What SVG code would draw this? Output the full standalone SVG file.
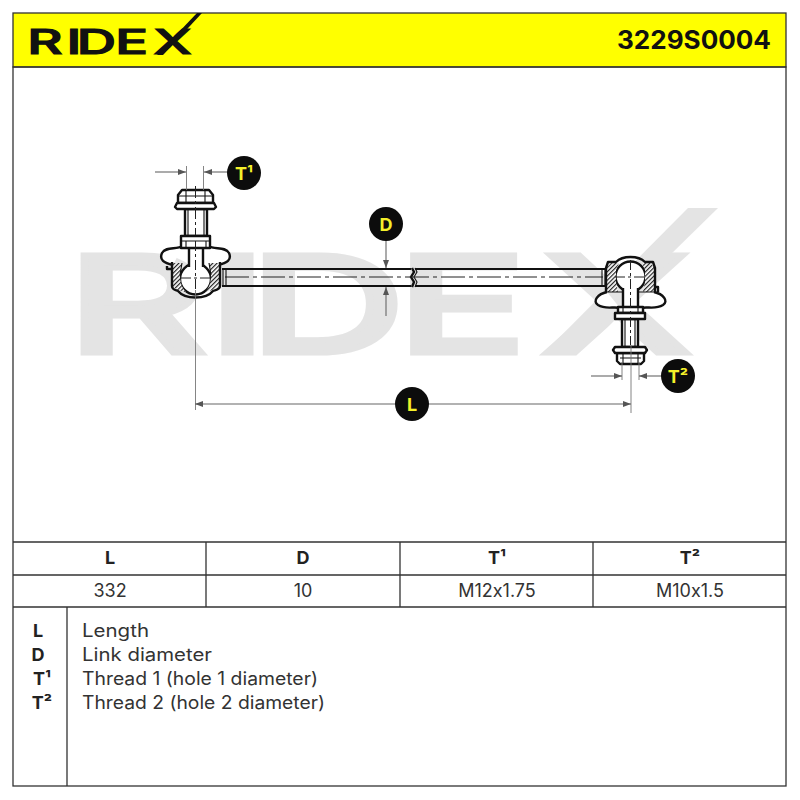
<svg xmlns="http://www.w3.org/2000/svg" width="800" height="800" viewBox="0 0 800 800">
<style>
text{font-family:"Inter","Open Sans","Liberation Sans",sans-serif;fill:#222;font-feature-settings:"calt" 0,"liga" 0}
.grid{stroke:#333;stroke-width:1.3;fill:none}
.th{font-size:18px;font-weight:700;text-anchor:middle}
.td{font-size:18px;text-anchor:middle;fill:#333}
.lk{font-size:18px;font-weight:700;text-anchor:middle}
.lv{font-size:18px;fill:#333}
.dim{stroke:#666;stroke-width:1.1;fill:none}
.ext{stroke:#777;stroke-width:.9;fill:none}
.o{stroke:#111;stroke-width:2.4;fill:#fff;stroke-linejoin:round}
.l{stroke:#111;stroke-width:2.4;fill:none;stroke-linejoin:round}
.t{stroke:#111;stroke-width:1.1;fill:none}
.w{fill:#fff;stroke:none}
.hh{fill:url(#h);stroke:none}
.c{stroke:#222;stroke-width:1;fill:none}
.bub{fill:#0c0c0c}
.bt{font-size:18px;font-weight:700;fill:#f4f02a;text-anchor:middle}
</style>
<defs>
<marker id="a" viewBox="0 0 8 6" refX="8" refY="3" markerWidth="8" markerHeight="6" orient="auto-start-reverse" markerUnits="userSpaceOnUse"><path d="M0 0L8 3L0 6z" fill="#555"/></marker>
<pattern id="h" width="3" height="3" patternUnits="userSpaceOnUse" patternTransform="rotate(-45)"><rect width="3" height="3" fill="#fff"/><rect width="3" height="1.2" fill="#222"/></pattern>
</defs>
<rect width="800" height="800" fill="#fff"/>
<g id="watermark">
<text transform="translate(0 353) scale(1.6 1)" x="42 130 156 248 338" y="0" font-size="135" font-weight="500" style="fill:#e4e4e4;stroke:#e4e4e4;stroke-width:5">RIDEX</text>
<path d="M542 355H568L718 208H688z" fill="#e4e4e4"/>
</g>
<g id="header">
<rect x="13" y="13" width="773" height="54" fill="#ffff00" stroke="#333" stroke-width="1.3"/>
<text transform="translate(0 54) scale(1.6 1)" x="17 41.500 48 72 96" y="0" font-size="34" font-weight="500" style="fill:#111;stroke:#111;stroke-width:1.200">RIDEX</text>
<path d="M157 55H163L202 13H197z" fill="#111"/>
<text x="617" y="49" font-size="25" font-weight="700" textLength="154" lengthAdjust="spacingAndGlyphs" style="fill:#111">3229S0004</text>
</g>
<g id="frame" class="grid">
<rect x="13" y="67" width="773" height="719"/>
<path d="M13 542H786M13 575H786M13 607H786M206 542V607M400 542V607M593 542V607M67 607V786"/>
</g>
<g id="table">
<text class="th" x="110" y="564">L</text><text class="th" x="303" y="564">D</text><text class="th" x="497" y="564">T¹</text><text class="th" x="690" y="564">T²</text>
<text class="td" x="110" y="597">332</text><text class="td" x="303" y="597">10</text><text class="td" x="497" y="597">M12x1.75</text><text class="td" x="690" y="597">M10x1.5</text>
</g>
<g id="legend">
<text class="lk" x="38" y="637">L</text><text class="lk" x="38" y="661">D</text><text class="lk" x="42" y="685">T¹</text><text class="lk" x="42" y="709">T²</text>
<text class="lv" x="82" y="637" textLength="67" lengthAdjust="spacingAndGlyphs">Length</text>
<text class="lv" x="82" y="661" textLength="130" lengthAdjust="spacingAndGlyphs">Link diameter</text>
<text class="lv" x="82" y="685" textLength="236" lengthAdjust="spacingAndGlyphs">Thread 1 (hole 1 diameter)</text>
<text class="lv" x="82" y="709" textLength="243" lengthAdjust="spacingAndGlyphs">Thread 2 (hole 2 diameter)</text>
</g>
<g id="rod">
<path d="M222 269H411M415 269H606M222 286H411M415 286H606" stroke="#111" stroke-width="2.2" fill="none"/>
<path d="M412 268L414 272L411 277L414 282L412 287" stroke="#111" stroke-width="2.4" fill="none"/>
<path d="M415 268L417 272L414 277L417 282L415 287" stroke="#111" stroke-width="1.1" fill="none"/>
<path class="c" d="M225 277H603" stroke-dasharray="24 4 4 4"/>
<path class="t" d="M223 269V286M226 269V286M602 269V286M605 269V286"/>
</g>
<g id="joint-left">
<path class="o" d="M185 209H207V236H185z"/>
<path class="t" d="M188 209V236M204 209V236"/>
<path class="o" d="M182 190H209L213 195V203H178V195z"/>
<path class="t" d="M186 190V203M205 190V203M178 196H213"/>
<path class="o" d="M177 203H214L216 207L214 209H177L175 207z"/>
<path class="o" d="M183 246C176 250 166 246 162 253C159 260 164 263 173 265M208 246C215 250 225 246 229 253C232 260 227 263 218 265"/>
<path class="l" d="M167 266V269H172"/>
<circle class="o" cx="195.500" cy="279" r="15.500"/>
<path class="hh" d="M172 263H182L180 275C180 283 182 288 186 292L178 290L172 286z"/>
<path class="hh" d="M220 263H209L211 275C211 283 209 288 205 292L213 290L220 286z"/>
<path class="t" d="M182 263L180 275M209 263L211 275"/>
<path class="l" d="M172 262V286C172 290 176 290 178 291C182 296 188 297.500 195.500 297.500C203 297.500 209 296 213 291C215 290 220 290 220 286V262"/>
<rect class="w" x="189" y="248" width="14" height="20"/>
<path class="l" d="M189 248V267M203 248V267"/>
<path class="o" d="M181 236H210V248H181z"/>
<path class="t" d="M181 241H210M186 241V248M206 241V248"/>
<path class="c" d="M195.500 186V235" stroke-dasharray="12 3 3 3"/>
<path class="c" d="M195.500 241V290" stroke-dasharray="10 3 3 3"/>
<path class="c" d="M181 278H210" stroke-dasharray="10 3 3 3"/>
</g>
<g id="joint-right">
<path class="o" d="M622 319H638V347H622z"/>
<path class="t" d="M625 319V347M635 319V347"/>
<path class="o" d="M617 353H644V361L641 364H620L617 361z"/>
<path class="t" d="M623 353V364M638 353V364M620 358H641"/>
<path class="o" d="M615 347H645L647 350L645 353H615L613 350z"/>
<path class="o" d="M607 292C598 294 592 301 598 305C606 310 614 306 620 308M641 308C647 306 655 310 663 305C669 301 663 294 654 292"/>
<path class="l" d="M655 287H658V292"/>
<circle class="o" cx="630.500" cy="276.500" r="15"/>
<path class="hh" d="M607 267L611 263H619L616 270V282L618 292H607z"/>
<path class="hh" d="M654 267L650 263H642L645 270V282L643 292H654z"/>
<path class="l" d="M606 292V268L608 262H616C620 258 625 257 630.500 257C636 257 641 258 645 262H653L655 268V292"/>
<path class="t" d="M606 292H655"/>
<rect class="w" x="623" y="288" width="15" height="19"/>
<path class="l" d="M623 288V307M638 288V307"/>
<path class="o" d="M618 307H643V313H618z"/>
<path class="t" d="M623 307V313M638 307V313"/>
<path class="o" d="M615 313H645V319H615z"/>
<path class="c" d="M630.500 260V345" stroke-dasharray="10 3 3 3"/>
<path class="c" d="M615 277H647" stroke-dasharray="10 3 3 3"/>
</g>
<g id="connectors">
<path class="ext" d="M186.500 166V190M203.500 166V190M622 362V380M639 362V380M631 345V413M195.500 290V410"/>
<path class="dim" d="M155 172H186" marker-end="url(#a)"/>
<path class="dim" d="M228 172H204" marker-end="url(#a)"/>
<path class="dim" d="M591 376H622" marker-end="url(#a)"/>
<path class="dim" d="M663 376H639" marker-end="url(#a)"/>
<path class="dim" d="M386 240V268" marker-end="url(#a)"/>
<path class="dim" d="M386 316V287" marker-end="url(#a)"/>
<path class="dim" d="M195 404H631" marker-start="url(#a)" marker-end="url(#a)"/>
</g>
<g id="badge-t1"><circle class="bub" cx="244" cy="173" r="17"/><text class="bt" x="244" y="180">T¹</text></g>
<g id="badge-d"><circle class="bub" cx="386" cy="224" r="17"/><text class="bt" x="386" y="231">D</text></g>
<g id="badge-t2"><circle class="bub" cx="678" cy="376" r="17"/><text class="bt" x="678" y="383">T²</text></g>
<g id="badge-l"><circle class="bub" cx="412" cy="404" r="17"/><text class="bt" x="412" y="411">L</text></g>
</svg>
